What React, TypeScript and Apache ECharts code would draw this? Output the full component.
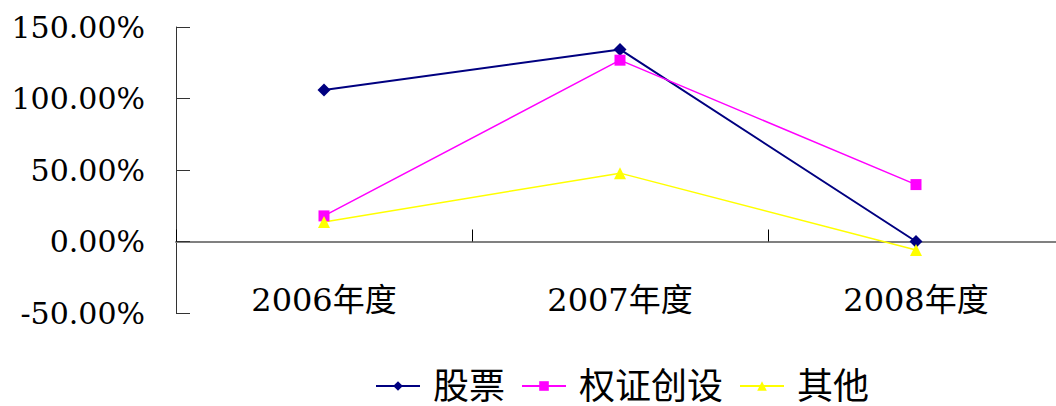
import React, { useEffect, useRef } from "react";
import * as echarts from "echarts";

const categories = ["2006年度", "2007年度", "2008年度"];
const seriesNames = ["股票", "权证创设", "其他"];
const stockValues = [106.0, 134.3, 0.0];
const warrantValues = [17.9, 126.8, 39.8];
const otherValues = [13.7, 47.8, -5.9];
const yTicks = { min: -50, max: 150, interval: 50 };

const FONT = "DejaVu Serif, Noto Sans CJK SC";

export default function App() {
  const ref = useRef<HTMLDivElement>(null);
  useEffect(() => {
    if (!ref.current) return;
    const chart = echarts.init(ref.current, undefined, { renderer: "svg" });
    const mk = (name: string, data: number[], color: string, symbol: string, size: number, width: number) => ({
      name,
      type: "line",
      data,
      symbol,
      symbolSize: size,
      showSymbol: true,
      itemStyle: { color },
      lineStyle: { color, width },
      z: 3,
    });
    chart.setOption({
      animation: false,
      backgroundColor: "#ffffff",
      textStyle: { fontFamily: FONT },
      grid: { left: 176, width: 888, top: 27, height: 286, containLabel: false, outerBoundsMode: "none" },
      legend: {
        left: 375,
        top: 367,
        padding: 0,
        itemWidth: 44,
        itemHeight: 12,
        itemGap: 16,
        textStyle: { fontFamily: FONT, fontSize: 36, lineHeight: 38, color: "#000", padding: [0, 0, 0, 8] },
        data: seriesNames,
      },
      xAxis: {
        type: "category",
        data: categories,
        boundaryGap: true,
        axisLine: { onZero: true, lineStyle: { color: "#808080", width: 2 } },
        axisTick: { show: true, inside: true, length: 12, lineStyle: { color: "#000", width: 1 } },
        axisLabel: { fontFamily: FONT, fontSize: 32, color: "#000", margin: -29 },
        splitLine: { show: false },
      },
      yAxis: {
        type: "value",
        min: yTicks.min,
        max: yTicks.max,
        interval: yTicks.interval,
        axisLine: { show: true, lineStyle: { color: "#333", width: 1 } },
        axisTick: { show: true, inside: true, length: 14, lineStyle: { color: "#333" } },
        axisLabel: {
          fontFamily: "DejaVu Serif",
          fontSize: 30,
          color: "#000",
          margin: 31,
          formatter: (v: number) => v.toFixed(2) + "%",
        },
        splitLine: { show: false },
      },
      series: [
        mk(seriesNames[0], stockValues, "#000080", "diamond", 13, 2),
        mk(seriesNames[1], warrantValues, "#ff00ff", "rect", 11, 1.5),
        mk(seriesNames[2], otherValues, "#ffff00", "triangle", 12, 1.5),
      ],
    });
    return () => chart.dispose();
  }, []);
  return (
    <div
      ref={ref}
      style={{ position: "fixed", left: 0, top: 0, width: 1056, height: 406 }}
    />
  );
}
